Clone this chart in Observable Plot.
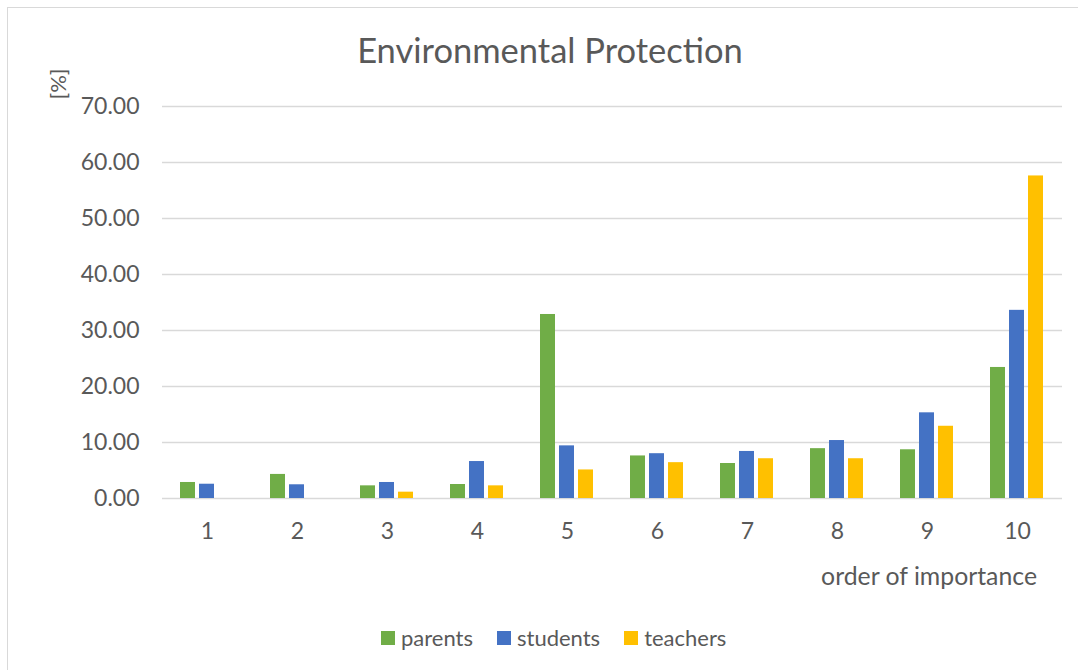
<!DOCTYPE html>
<html>
<head>
<meta charset="utf-8">
<script src="https://cdn.jsdelivr.net/npm/d3@7"></script>
<script src="https://cdn.jsdelivr.net/npm/@observablehq/plot@0.6"></script>
<style>
  html, body { margin: 0; padding: 0; background: #fff; overflow: hidden; }
  body { width: 1078px; height: 670px; position: relative; font-family: Lato, "Open Sans", sans-serif; color: #595959; }
  #frame { position: absolute; left: 7px; top: 7px; width: 1200px; height: 800px; border: 1.5px solid #d9d9d9; box-sizing: border-box; }
  #title { position: absolute; left: 0; width: 1100px; top: 29px; text-align: center; font-size: 34.5px; line-height: 42px; }
  #chart { position: absolute; left: 0; top: 0; }
  #ylab { position: absolute; left: 57px; top: 84px; font-size: 22px; transform: translate(-50%, -50%) rotate(-90deg); white-space: nowrap; }
  #xlab { position: absolute; right: 41px; top: 561px; font-size: 24.8px; line-height: 30px; white-space: nowrap; }
  #legend { position: absolute; left: 381px; top: 624px; display: flex; align-items: center; font-size: 22px; line-height: 28px; }
  .item { display: flex; align-items: center; margin-right: 24px; }
  .sw { width: 14px; height: 14px; margin-right: 6px; }
</style>
</head>
<body>
<div id="frame"></div>
<div id="title">Environmental Protection</div>
<div id="chart"></div>
<div id="ylab">[%]</div>
<div id="xlab">order of importance</div>
<div id="legend"></div>
<script>
const categories = ["1", "2", "3", "4", "5", "6", "7", "8", "9", "10"];
const seriesNames = ["parents", "students", "teachers"];
const parents  = [2.86, 4.30, 2.26, 2.50, 32.86, 7.60, 6.25, 8.90, 8.70, 23.40];
const students = [2.55, 2.45, 2.86, 6.60, 9.40, 8.00, 8.40, 10.35, 15.30, 33.60];
const teachers = [0, 0, 1.13, 2.26, 5.10, 6.40, 7.10, 7.10, 12.90, 57.60];
const yTicks = [0, 10, 20, 30, 40, 50, 60, 70];
const colors = ["#70AD47", "#4472C4", "#FFC000"];

const seriesValues = [parents, students, teachers];
const data = [];
categories.forEach((c, i) => {
  seriesNames.forEach((s, j) => {
    data.push({category: c, series: s, value: seriesValues[j][i]});
  });
});

const fmt = d3.format(".2f");
const plot = Plot.plot({
  width: 1078,
  height: 600,
  marginLeft: 160,
  marginRight: 15,
  marginTop: 106,
  marginBottom: 102,
  style: {fontFamily: "Lato, 'Open Sans', sans-serif", fontSize: "23px", color: "#595959", background: "transparent"},
  fx: {domain: categories, padding: 0, label: null},
  x: {domain: seriesNames, paddingInner: 0.2, paddingOuter: 0.857, axis: null},
  y: {domain: [0, 70], label: null},
  color: {domain: seriesNames, range: colors},
  marks: [
    Plot.gridY(yTicks, {stroke: "#d9d9d9", strokeOpacity: 1, strokeWidth: 1.5}),
    Plot.axisY(yTicks, {tickSize: 0, tickPadding: 23, tickFormat: fmt, label: null, fill: "#595959"}),
    Plot.axisFx({anchor: "bottom", tickSize: 0, tickPadding: 24, label: null, fill: "#595959"}),
    Plot.barY(data, {fx: "category", x: "series", y: "value", fill: "series"})
  ]
});
document.getElementById("chart").appendChild(plot);

const legend = document.getElementById("legend");
seriesNames.forEach((s, j) => {
  const item = document.createElement("div");
  item.className = "item";
  const sw = document.createElement("div");
  sw.className = "sw";
  sw.style.background = colors[j];
  const t = document.createElement("span");
  t.textContent = s;
  item.appendChild(sw);
  item.appendChild(t);
  legend.appendChild(item);
});
</script>
</body>
</html>
